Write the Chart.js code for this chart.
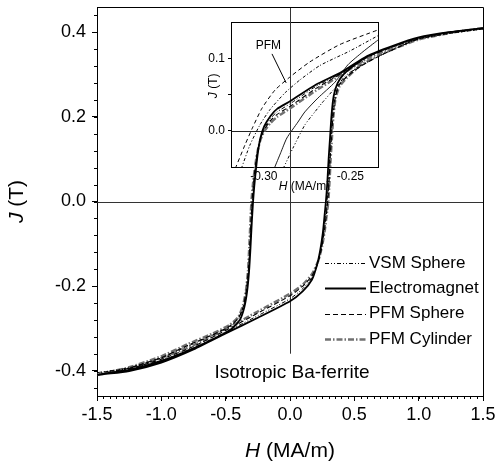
<!DOCTYPE html>
<html>
<head>
<meta charset="utf-8">
<script src="https://cdn.jsdelivr.net/npm/chart.js@4.4.0/dist/chart.umd.min.js"></script>
<style>
  html, body { margin: 0; padding: 0; background: #fff; }
  #wrap { position: relative; width: 495px; height: 462px; }
  #inset { position: absolute; left: 180px; top: 0; z-index: 0; }
  #main { position: absolute; left: 0; top: 0; z-index: 1; }
</style>
</head>
<body>
<div id="wrap">
  <canvas id="inset" width="215" height="205"></canvas>
  <canvas id="main" width="495" height="462"></canvas>
</div>
<script>
// ---- main loops: H (MA/m) and J (T), descending branch then ascending branch
var vsmH = [1.5, 1.25, 1.0, 0.8, 0.6, 0.4, 0.2, 0, -0.1, -0.15, -0.2, -0.23, -0.255, -0.271, -0.283, -0.292, -0.301, -0.311, -0.322, -0.338, -0.36, -0.4, -0.47, -0.6, -0.8, -1.0, -1.25, -1.5,
            -1.25, -1.0, -0.75, -0.5, -0.25, 0, 0.1, 0.17, 0.215, 0.242, 0.262, 0.276, 0.288, 0.298, 0.308, 0.318, 0.33, 0.348, 0.378, 0.43, 0.55, 0.7, 0.85, 1.0, 1.25, 1.5];
var vsmJ = [0.408, 0.398, 0.385, 0.366, 0.342, 0.304, 0.272, 0.231, 0.212, 0.197, 0.173, 0.148, 0.112, 0.073, 0.034, 0, -0.05, -0.11, -0.165, -0.21, -0.248, -0.277, -0.297, -0.316, -0.343, -0.37, -0.393, -0.405,
            -0.395, -0.376, -0.346, -0.309, -0.27, -0.23, -0.206, -0.18, -0.147, -0.11, -0.07, -0.033, 0, 0.045, 0.1, 0.15, 0.2, 0.245, 0.276, 0.297, 0.322, 0.345, 0.366, 0.384, 0.398, 0.408];

var emH = [1.5, 1.25, 1.0, 0.8, 0.6, 0.4, 0.2, 0, -0.1, -0.15, -0.2, -0.23, -0.25, -0.265, -0.278, -0.287, -0.297, -0.307, -0.318, -0.333, -0.355, -0.39, -0.45, -0.55, -0.75, -1.0, -1.25, -1.5,
           -1.25, -1.0, -0.75, -0.5, -0.25, 0, 0.1, 0.17, 0.21, 0.235, 0.255, 0.268, 0.279, 0.29, 0.3, 0.311, 0.323, 0.34, 0.37, 0.42, 0.5, 0.6, 0.8, 1.0, 1.25, 1.5];
var emJ = [0.41, 0.401, 0.388, 0.368, 0.344, 0.306, 0.276, 0.237, 0.219, 0.203, 0.178, 0.15, 0.115, 0.075, 0.035, 0, -0.05, -0.11, -0.165, -0.212, -0.25, -0.28, -0.3, -0.318, -0.347, -0.377, -0.398, -0.41,
           -0.401, -0.381, -0.35, -0.312, -0.275, -0.236, -0.212, -0.185, -0.15, -0.115, -0.075, -0.035, 0, 0.045, 0.1, 0.15, 0.205, 0.25, 0.28, 0.302, 0.322, 0.343, 0.368, 0.388, 0.401, 0.41];

var psH = [1.5, 1.25, 1.0, 0.8, 0.6, 0.4, 0.2, 0, -0.1, -0.15, -0.2, -0.23, -0.255, -0.273, -0.286, -0.295, -0.304, -0.313, -0.324, -0.34, -0.362, -0.4, -0.47, -0.6, -0.8, -1.0, -1.25, -1.5,
           -1.25, -1.0, -0.75, -0.5, -0.25, 0, 0.1, 0.17, 0.22, 0.247, 0.268, 0.282, 0.293, 0.303, 0.312, 0.322, 0.334, 0.352, 0.38, 0.44, 0.55, 0.7, 0.85, 1.0, 1.25, 1.5];
var psJ = [0.41, 0.401, 0.387, 0.366, 0.341, 0.303, 0.267, 0.225, 0.206, 0.192, 0.17, 0.147, 0.115, 0.075, 0.035, 0, -0.05, -0.11, -0.165, -0.21, -0.247, -0.275, -0.295, -0.315, -0.341, -0.369, -0.394, -0.41,
           -0.396, -0.373, -0.343, -0.305, -0.264, -0.223, -0.2, -0.176, -0.143, -0.108, -0.068, -0.032, 0, 0.045, 0.1, 0.15, 0.2, 0.245, 0.274, 0.295, 0.32, 0.345, 0.366, 0.385, 0.4, 0.41];

var pcH = [1.5, 1.25, 1.0, 0.8, 0.6, 0.4, 0.2, 0, -0.1, -0.15, -0.2, -0.23, -0.255, -0.275, -0.29, -0.3, -0.308, -0.317, -0.327, -0.342, -0.365, -0.4, -0.47, -0.6, -0.8, -1.0, -1.25, -1.5,
           -1.25, -1.0, -0.75, -0.5, -0.25, 0, 0.1, 0.17, 0.22, 0.25, 0.272, 0.286, 0.298, 0.307, 0.316, 0.326, 0.337, 0.355, 0.385, 0.44, 0.55, 0.7, 0.85, 1.0, 1.25, 1.5];
var pcJ = [0.41, 0.4, 0.385, 0.364, 0.338, 0.3, 0.262, 0.22, 0.2, 0.186, 0.166, 0.145, 0.115, 0.075, 0.035, 0, -0.05, -0.11, -0.165, -0.21, -0.245, -0.272, -0.292, -0.312, -0.338, -0.366, -0.392, -0.41,
           -0.394, -0.37, -0.34, -0.302, -0.26, -0.218, -0.196, -0.172, -0.14, -0.105, -0.065, -0.03, 0, 0.045, 0.1, 0.15, 0.2, 0.245, 0.272, 0.292, 0.322, 0.347, 0.366, 0.383, 0.399, 0.41];

// ---- inset curves (zoom near the coercive field)
var inPfmAH = [-0.3165, -0.3110, -0.3064, -0.3011, -0.2936, -0.2850, -0.2734, -0.2560, -0.2341];
var inPfmAJ = [-0.052, -0.020, 0.005, 0.031, 0.056, 0.074, 0.095, 0.119, 0.139];
var inPfmBH = [-0.3130, -0.3081, -0.3023, -0.2965, -0.2879, -0.2792, -0.2676, -0.2503, -0.2341];
var inPfmBJ = [-0.052, -0.020, 0.008, 0.029, 0.052, 0.070, 0.090, 0.110, 0.131];
var inEmH = [-0.2940, -0.2902, -0.2867, -0.2803, -0.2763, -0.2688, -0.2589, -0.2514, -0.2427, -0.2341];
var inEmJ = [-0.052, -0.030, -0.010, 0.012, 0.026, 0.045, 0.067, 0.091, 0.109, 0.125];
var inVsmH = [-0.2888, -0.2832, -0.2763, -0.2705, -0.2665, -0.2572, -0.2491, -0.2416, -0.2341];
var inVsmJ = [-0.052, -0.024, 0.008, 0.026, 0.038, 0.063, 0.081, 0.098, 0.109];

var xTickValues = [-1.5, -1.0, -0.5, 0, 0.5, 1.0, 1.5];
var yTickValues = [-0.4, -0.2, 0, 0.2, 0.4];
var inXTickValues = [-0.30, -0.25];
var inYTickValues = [0, 0.05, 0.1];
var legendLabels = ['VSM Sphere', 'Electromagnet', 'PFM Sphere', 'PFM Cylinder'];
var pfmLabelAt = [-0.2974, 0.118];
var pfmArrow = [[-0.2953, 0.106], [-0.2871, 0.066]];

var FONT = '"Liberation Sans", Arial, sans-serif';

function pts(h, j) {
    return h.map(function (v, i) { return { x: v, y: j[i] }; });
}

function line(label, data, color, width, dash, order) {
    return {
        label: label, data: data, showLine: true, pointRadius: 0,
        borderColor: color, borderWidth: width, borderDash: dash,
        tension: 0.2, fill: false, order: order
    };
}

// no extra room for edge labels: the plot box is placed by the paddings only
function noEdgePad(s) {
    s.paddingTop = 0; s.paddingBottom = 0; s.paddingLeft = 0; s.paddingRight = 0;
}

function mixedText(ctx, parts, cx, cy, rot) {
    ctx.save();
    ctx.translate(cx, cy);
    ctx.rotate(rot);
    ctx.textBaseline = 'middle';
    ctx.textAlign = 'left';
    ctx.fillStyle = '#000';
    var w = 0;
    parts.forEach(function (p) { ctx.font = p[1]; w += ctx.measureText(p[0]).width; });
    var x = -w / 2;
    parts.forEach(function (p) { ctx.font = p[1]; ctx.fillText(p[0], x, 0); x += ctx.measureText(p[0]).width; });
    ctx.restore();
}

function minorTicks(ctx, scale, from, to, step, isX, len) {
    ctx.beginPath();
    for (var k = Math.round(from / step); k <= Math.round(to / step); k++) {
        var p = Math.round(scale.getPixelForValue(k * step)) + 0.5;
        if (isX) { ctx.moveTo(p, scale.top); ctx.lineTo(p, scale.top + len); }
        else { ctx.moveTo(scale.right, p); ctx.lineTo(scale.right - len, p); }
    }
    ctx.stroke();
}

var mainDecor = {
    id: 'mainDecor',
    beforeDatasetsDraw: function (chart) {
        var ctx = chart.ctx, a = chart.chartArea, sx = chart.scales.x, sy = chart.scales.y;
        ctx.save();
        ctx.strokeStyle = '#333';
        ctx.lineWidth = 1;
        var y0 = Math.round(sy.getPixelForValue(0)) + 0.5;
        var x0 = Math.round(sx.getPixelForValue(0)) + 0.5;
        ctx.beginPath();
        ctx.moveTo(a.left, y0); ctx.lineTo(a.right, y0);
        ctx.moveTo(x0, a.top); ctx.lineTo(x0, sy.getPixelForValue(-0.36));
        ctx.stroke();
        ctx.restore();
    },
    afterDraw: function (chart) {
        var ctx = chart.ctx, a = chart.chartArea, sx = chart.scales.x, sy = chart.scales.y;
        ctx.save();
        ctx.strokeStyle = '#000';
        ctx.lineWidth = 1;
        ctx.beginPath();
        ctx.moveTo(a.left, Math.round(a.top) + 0.5); ctx.lineTo(Math.round(a.right) + 0.5, Math.round(a.top) + 0.5);
        ctx.lineTo(Math.round(a.right) + 0.5, a.bottom);
        ctx.stroke();
        minorTicks(ctx, sx, -1.5, 1.5, 0.05, true, 3);
        minorTicks(ctx, sy, -0.44, 0.44, 0.04, false, 3);

        // legend
        var lx0 = a.right - 158, lx1 = a.right - 117, tx = a.right - 114;
        chart.data.datasets.forEach(function (ds, i) {
            var y = a.top + 256 + i * 25.3;
            ctx.save();
            ctx.strokeStyle = ds.borderColor;
            ctx.lineWidth = ds.borderWidth;
            ctx.setLineDash(ds.borderDash || []);
            ctx.beginPath();
            ctx.moveTo(lx0, Math.round(y) + 0.5); ctx.lineTo(lx1, Math.round(y) + 0.5);
            ctx.stroke();
            ctx.restore();
            ctx.fillStyle = '#000';
            ctx.font = '17px ' + FONT;
            ctx.textBaseline = 'middle';
            ctx.textAlign = 'left';
            ctx.fillText(legendLabels[i], tx, y);
        });

        ctx.font = '19px ' + FONT;
        ctx.textAlign = 'center';
        ctx.fillText('Isotropic Ba-ferrite', (a.left + a.right) / 2 + 2, a.bottom - 23);

        mixedText(ctx, [['H', 'italic 21px ' + FONT], [' (MA/m)', '21px ' + FONT]],
            (a.left + a.right) / 2, sx.top + 55, 0);
        mixedText(ctx, [['J', 'italic 21px ' + FONT], [' (T)', '21px ' + FONT]],
            17, (a.top + a.bottom) / 2, -Math.PI / 2);
        ctx.restore();
    }
};

new Chart(document.getElementById('main'), {
    type: 'scatter',
    data: {
        datasets: [
            line(legendLabels[0], pts(vsmH, vsmJ), '#000', 1, [4, 2, 1, 2, 1, 2], 3),
            line(legendLabels[1], pts(emH, emJ), '#000', 1.8, [], 1),
            line(legendLabels[2], pts(psH, psJ), '#000', 1.1, [5, 3], 2),
            line(legendLabels[3], pts(pcH, pcJ), '#707070', 2.4, [6, 2, 1.5, 2], 4)
        ]
    },
    options: {
        responsive: false,
        animation: false,
        layout: { padding: { top: 7, right: 12, left: 0, bottom: 0 } },
        plugins: { legend: { display: false }, tooltip: { enabled: false } },
        scales: {
            x: {
                type: 'linear', position: 'bottom', min: -1.5, max: 1.5,
                afterBuildTicks: function (s) { s.ticks = xTickValues.map(function (v) { return { value: v }; }); },
                afterFit: function (s) { s.height = 66; noEdgePad(s); },
                grid: { drawOnChartArea: false, tickLength: 5, color: '#000' },
                border: { color: '#000', width: 1 },
                ticks: {
                    color: '#000', padding: 3, maxRotation: 0, font: { family: FONT, size: 18 },
                    callback: function (v) { return v.toFixed(1); }
                }
            },
            y: {
                type: 'linear', position: 'left', min: -0.46, max: 0.46,
                afterBuildTicks: function (s) { s.ticks = yTickValues.map(function (v) { return { value: v }; }); },
                afterFit: function (s) { s.width = 97; noEdgePad(s); },
                grid: { drawOnChartArea: false, tickLength: 5, color: '#000' },
                border: { color: '#000', width: 1 },
                ticks: {
                    color: '#000', padding: 6, font: { family: FONT, size: 18 },
                    callback: function (v) { return v.toFixed(1); }
                }
            }
        }
    },
    plugins: [mainDecor]
});

var insetDecor = {
    id: 'insetDecor',
    beforeDatasetsDraw: function (chart) {
        var ctx = chart.ctx, a = chart.chartArea, sy = chart.scales.y;
        ctx.save();
        ctx.strokeStyle = '#222';
        ctx.lineWidth = 1;
        var y0 = Math.round(sy.getPixelForValue(0)) + 0.5;
        ctx.beginPath();
        ctx.moveTo(a.left, y0); ctx.lineTo(a.right, y0);
        ctx.stroke();
        ctx.restore();
    },
    afterDraw: function (chart) {
        var ctx = chart.ctx, a = chart.chartArea, sx = chart.scales.x, sy = chart.scales.y;
        ctx.save();
        ctx.strokeStyle = '#000';
        ctx.lineWidth = 1;
        ctx.strokeRect(Math.round(a.left) + 0.5, Math.round(a.top) + 0.5,
            Math.round(a.right - a.left), Math.round(a.bottom - a.top));

        ctx.fillStyle = '#000';
        ctx.font = '12px ' + FONT;
        ctx.textAlign = 'center';
        ctx.textBaseline = 'middle';
        ctx.fillText('PFM', sx.getPixelForValue(pfmLabelAt[0]), sy.getPixelForValue(pfmLabelAt[1]));
        ctx.beginPath();
        ctx.moveTo(sx.getPixelForValue(pfmArrow[0][0]), sy.getPixelForValue(pfmArrow[0][1]));
        ctx.lineTo(sx.getPixelForValue(pfmArrow[1][0]), sy.getPixelForValue(pfmArrow[1][1]));
        ctx.stroke();

        mixedText(ctx, [['H', 'italic 12px ' + FONT], [' (MA/m)', '12px ' + FONT]],
            (a.left + a.right) / 2, a.bottom + 20, 0);
        mixedText(ctx, [['J', 'italic 12px ' + FONT], [' (T)', '12px ' + FONT]],
            a.left - 17, sy.getPixelForValue(0.062), -Math.PI / 2);
        ctx.restore();
    }
};

new Chart(document.getElementById('inset'), {
    type: 'scatter',
    data: {
        datasets: [
            line('PFM a', pts(inPfmAH, inPfmAJ), '#000', 1, [4, 3], 1),
            line('PFM b', pts(inPfmBH, inPfmBJ), '#000', 1, [3, 2, 1, 2], 2),
            line('Electromagnet', pts(inEmH, inEmJ), '#000', 0.9, [], 3),
            line('VSM', pts(inVsmH, inVsmJ), '#000', 1, [3, 2, 1, 2, 1, 2], 4)
        ]
    },
    options: {
        responsive: false,
        animation: false,
        layout: { padding: { top: 22, right: 17, left: 0, bottom: 0 } },
        plugins: { legend: { display: false }, tooltip: { enabled: false } },
        scales: {
            x: {
                type: 'linear', position: 'bottom', min: -0.319, max: -0.234,
                afterBuildTicks: function (s) { s.ticks = inXTickValues.map(function (v) { return { value: v }; }); },
                afterFit: function (s) { s.height = 38; noEdgePad(s); },
                grid: { drawOnChartArea: false, drawTicks: false },
                border: { color: '#000', width: 1 },
                ticks: {
                    color: '#000', padding: 2, maxRotation: 0, font: { family: FONT, size: 12 },
                    callback: function (v) { return v.toFixed(2); }
                }
            },
            y: {
                type: 'linear', position: 'left', min: -0.05, max: 0.15,
                afterBuildTicks: function (s) { s.ticks = inYTickValues.map(function (v) { return { value: v }; }); },
                afterFit: function (s) { s.width = 51; noEdgePad(s); },
                grid: { drawOnChartArea: false, tickLength: 3, color: '#000' },
                border: { color: '#000', width: 1 },
                ticks: {
                    color: '#000', padding: 3, font: { family: FONT, size: 12 },
                    callback: function (v) { return Math.abs(v - 0.05) < 1e-6 ? '' : v.toFixed(1); }
                }
            }
        }
    },
    plugins: [insetDecor]
});
</script>
</body>
</html>
